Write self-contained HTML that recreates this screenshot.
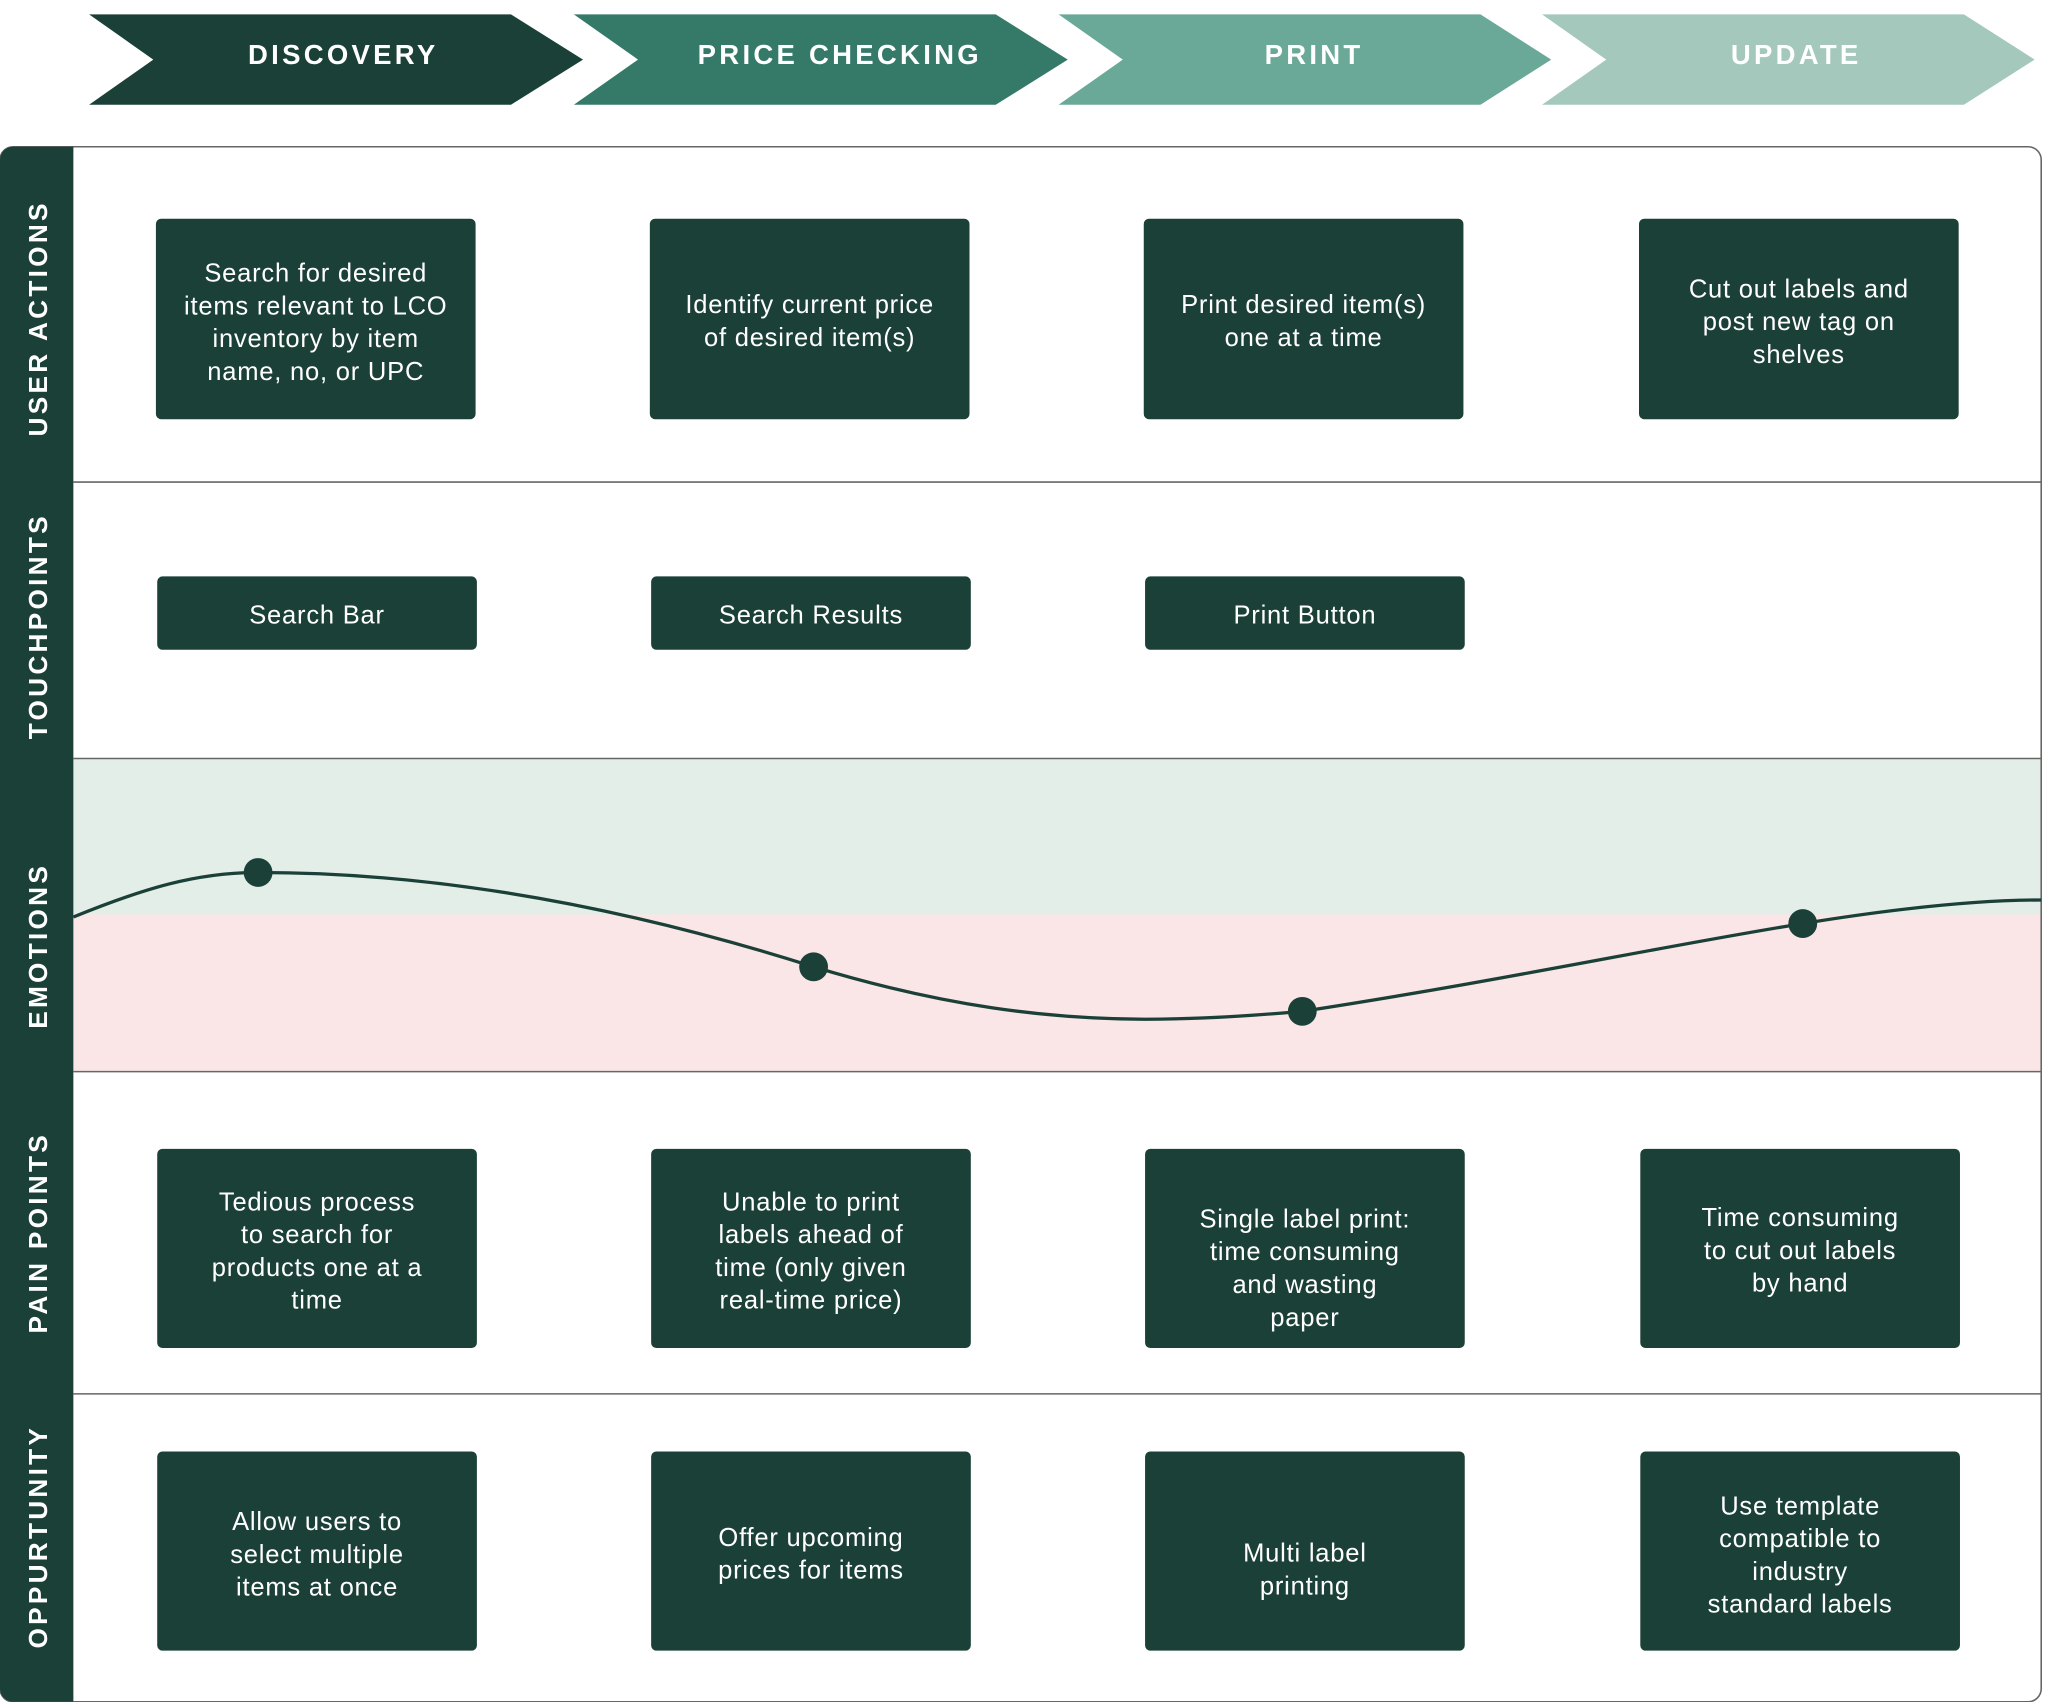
<!DOCTYPE html>
<html><head><meta charset="utf-8"><style>
html,body{margin:0;padding:0;background:#fff;}
svg{display:block;}
text{font-family:"Liberation Sans",sans-serif;}
</style></head><body>
<svg width="2053" height="1702" viewBox="0 0 1567 1299.2" preserveAspectRatio="none" xmlns="http://www.w3.org/2000/svg">
<rect x="0" y="0" width="1567" height="1300" fill="#fff"/>
<polygon points="68,11 390,11 445,45.5 390,80 68,80 117,45.5" fill="#1b4038"/>
<polygon points="438,11 760,11 815,45.5 760,80 438,80 487,45.5" fill="#357a69"/>
<polygon points="808,11 1130,11 1184,45.5 1130,80 808,80 857,45.5" fill="#6aa898"/>
<polygon points="1177,11 1499,11 1553,45.5 1499,80 1177,80 1226,45.5" fill="#a5c8bd"/>
<g fill="#fff" font-size="21" font-weight="bold" letter-spacing="2.5" text-anchor="middle">
<text x="262" y="49">DISCOVERY</text>
<text x="641" y="49">PRICE CHECKING</text>
<text x="1003" y="49">PRINT</text>
<text x="1371" y="49">UPDATE</text>
</g>
<rect x="56" y="579" width="1502" height="119" fill="#e3eee8"/>
<rect x="56" y="698" width="1502" height="120" fill="#fae6e6"/>
<path d="M10,112 H1548 A10,10 0 0 1 1558,122 V1289 A10,10 0 0 1 1548,1299 H10 A10,10 0 0 1 0,1289 V122 A10,10 0 0 1 10,112 Z" fill="none" stroke="#666" stroke-width="1.2"/>
<path d="M10,112 H56 V1299 H10 A10,10 0 0 1 0,1289 V122 A10,10 0 0 1 10,112 Z" fill="#1b4038"/>
<g stroke="#666" stroke-width="1.2">
<line x1="56" y1="368" x2="1558" y2="368"/>
<line x1="56" y1="579" x2="1558" y2="579"/>
<line x1="56" y1="818" x2="1558" y2="818"/>
<line x1="56" y1="1064" x2="1558" y2="1064"/>
</g>
<g fill="#fff" font-size="20" font-weight="bold" letter-spacing="2.5" text-anchor="middle">
<text transform="translate(36,243) rotate(-90)">USER ACTIONS</text>
<text transform="translate(36,478) rotate(-90)">TOUCHPOINTS</text>
<text transform="translate(36,722) rotate(-90)">EMOTIONS</text>
<text transform="translate(36,941) rotate(-90)">PAIN POINTS</text>
<text transform="translate(36,1173) rotate(-90)">OPPURTUNITY</text>
</g>
<g fill="#1b4038">
<rect x="119" y="167" width="244" height="153" rx="4"/>
<rect x="496" y="167" width="244" height="153" rx="4"/>
<rect x="873" y="167" width="244" height="153" rx="4"/>
<rect x="1251" y="167" width="244" height="153" rx="4"/>
<rect x="120" y="440" width="244" height="56" rx="4"/>
<rect x="497" y="440" width="244" height="56" rx="4"/>
<rect x="874" y="440" width="244" height="56" rx="4"/>
<rect x="120" y="877" width="244" height="152" rx="4"/>
<rect x="497" y="877" width="244" height="152" rx="4"/>
<rect x="874" y="877" width="244" height="152" rx="4"/>
<rect x="1252" y="877" width="244" height="152" rx="4"/>
<rect x="120" y="1108" width="244" height="152" rx="4"/>
<rect x="497" y="1108" width="244" height="152" rx="4"/>
<rect x="874" y="1108" width="244" height="152" rx="4"/>
<rect x="1252" y="1108" width="244" height="152" rx="4"/>
</g>
<g fill="#fff" font-size="19.5" text-anchor="middle" letter-spacing="0.6">
<text x="241" y="215">Search for desired</text>
<text x="241" y="240">items relevant to LCO</text>
<text x="241" y="265">inventory by item</text>
<text x="241" y="290">name, no, or UPC</text>
<text x="618" y="239">Identify current price</text>
<text x="618" y="264">of desired item(s)</text>
<text x="995" y="239">Print desired item(s)</text>
<text x="995" y="264">one at a time</text>
<text x="1373" y="227">Cut out labels and</text>
<text x="1373" y="252">post new tag on</text>
<text x="1373" y="277">shelves</text>
<text x="242" y="476">Search Bar</text>
<text x="619" y="476">Search Results</text>
<text x="996" y="476">Print Button</text>
<text x="242" y="924">Tedious process</text>
<text x="242" y="949">to search for</text>
<text x="242" y="974">products one at a</text>
<text x="242" y="999">time</text>
<text x="619" y="924">Unable to print</text>
<text x="619" y="949">labels ahead of</text>
<text x="619" y="974">time (only given</text>
<text x="619" y="999">real-time price)</text>
<text x="996" y="937">Single label print:</text>
<text x="996" y="962">time consuming</text>
<text x="996" y="987">and wasting</text>
<text x="996" y="1012">paper</text>
<text x="1374" y="936">Time consuming</text>
<text x="1374" y="961">to cut out labels</text>
<text x="1374" y="986">by hand</text>
<text x="242" y="1168">Allow users to</text>
<text x="242" y="1193">select multiple</text>
<text x="242" y="1218">items at once</text>
<text x="619" y="1180">Offer upcoming</text>
<text x="619" y="1205">prices for items</text>
<text x="996" y="1192">Multi label</text>
<text x="996" y="1217">printing</text>
<text x="1374" y="1156">Use template</text>
<text x="1374" y="1181">compatible to</text>
<text x="1374" y="1206">industry</text>
<text x="1374" y="1231">standard labels</text>
</g>
<path d="M56,700 C110,678 150,666 197,666 C330,666 470,690 621,738 C720,768 800,778 875,778 C920,778 960,775 994,772 C1150,748 1270,722 1376,705 C1450,693 1510,687 1558,687" fill="none" stroke="#1b4038" stroke-width="2.5"/>
<g fill="#1b4038">
<circle cx="197" cy="666" r="11"/>
<circle cx="621" cy="738" r="11"/>
<circle cx="994" cy="772" r="11"/>
<circle cx="1376" cy="705" r="11"/>
</g>
</svg>
</body></html>
